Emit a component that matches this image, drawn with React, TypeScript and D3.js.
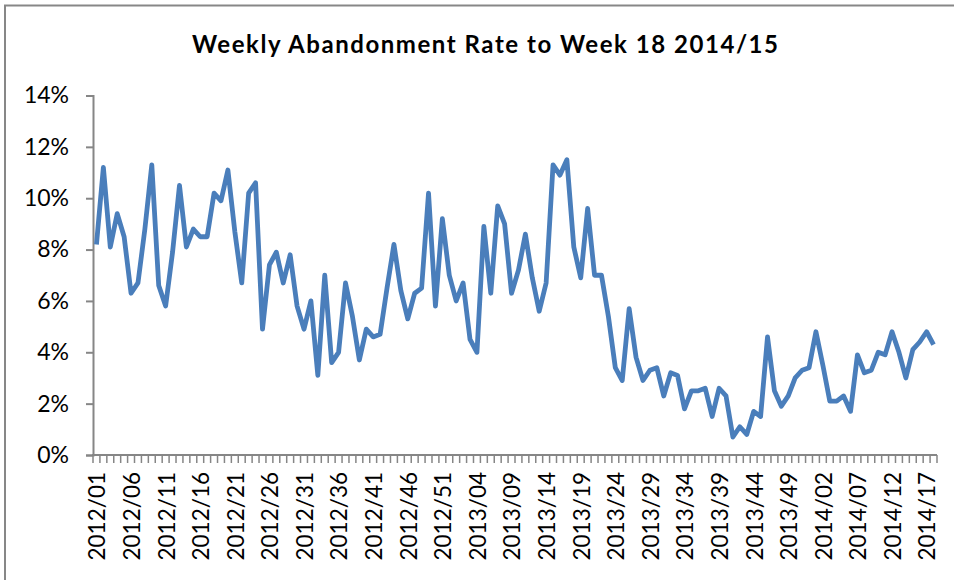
import React, { useEffect, useRef } from 'react';
import * as d3 from 'd3';

const chartTitle = 'Weekly Abandonment Rate to Week 18 2014/15';

// weeks per year shown on the category axis
const years = [2012, 2013, 2014];
const weeksInYear = [52, 52, 18];

const tickLabels = [
  '2012/01', '2012/06', '2012/11', '2012/16', '2012/21', '2012/26', '2012/31',
  '2012/36', '2012/41', '2012/46', '2012/51', '2013/04', '2013/09', '2013/14',
  '2013/19', '2013/24', '2013/29', '2013/34', '2013/39', '2013/44', '2013/49',
  '2014/02', '2014/07', '2014/12', '2014/17',
];

// abandonment rate, % per week
const rate2012 = [
  8.2, 11.2, 8.1, 9.4, 8.5, 6.3, 6.7, 8.8, 11.3, 6.6,
  5.8, 7.9, 10.5, 8.1, 8.8, 8.5, 8.5, 10.2, 9.9, 11.1,
  8.7, 6.7, 10.2, 10.6, 4.9, 7.4, 7.9, 6.7, 7.8, 5.8,
  4.9, 6.0, 3.1, 7.0, 3.6, 4.0, 6.7, 5.4, 3.7, 4.9,
  4.6, 4.7, 6.5, 8.2, 6.4, 5.3, 6.3, 6.5, 10.2, 5.8,
  9.2, 7.0,
];
const rate2013 = [
  6.0, 6.7, 4.5, 4.0, 8.9, 6.3, 9.7, 9.0, 6.3, 7.2,
  8.6, 6.9, 5.6, 6.7, 11.3, 10.9, 11.5, 8.1, 6.9, 9.6,
  7.0, 7.0, 5.4, 3.4, 2.9, 5.7, 3.8, 2.9, 3.3, 3.4,
  2.3, 3.2, 3.1, 1.8, 2.5, 2.5, 2.6, 1.5, 2.6, 2.3,
  0.7, 1.1, 0.8, 1.7, 1.5, 4.6, 2.5, 1.9, 2.3, 3.0,
  3.3, 3.4,
];
const rate2014 = [
  4.8, 3.5, 2.1, 2.1, 2.3, 1.7, 3.9, 3.2, 3.3, 4.0,
  3.9, 4.8, 4.0, 3.0, 4.1, 4.4, 4.8, 4.3,
];

const yTicks = [0, 2, 4, 6, 8, 10, 12, 14];

const width = 954;
const height = 580;

export default function App() {
  const ref = useRef(null);

  useEffect(() => {
    const weeks = [];
    years.forEach((y, k) => {
      for (let w = 1; w <= weeksInYear[k]; w++) {
        weeks.push(`${y}/${String(w).padStart(2, '0')}`);
      }
    });
    const values = [...rate2012, ...rate2013, ...rate2014];
    const data = weeks.map((w, i) => ({ week: w, value: values[i] }));

    const svg = d3.select(ref.current);
    svg.selectAll('*').remove();

    const left = 93;
    const right = 937;
    const top = 95.5;
    const bottom = 455;

    const x = d3.scaleBand().domain(weeks).range([left, right]);
    const y = d3.scaleLinear().domain([0, 14]).range([bottom, top]);

    svg.append('rect')
      .attr('width', width)
      .attr('height', height)
      .attr('fill', '#fff');

    // chart frame (only top and left edges fall inside the picture)
    svg.append('rect')
      .attr('x', 5)
      .attr('y', 5.5)
      .attr('width', 1000)
      .attr('height', 700)
      .attr('fill', 'none')
      .attr('stroke', '#878787')
      .attr('stroke-width', 2);

    svg.append('text')
      .attr('x', 485)
      .attr('y', 53)
      .attr('text-anchor', 'middle')
      .attr('textLength', 586)
      .attr('lengthAdjust', 'spacing')
      .style('font-family', 'Lato, sans-serif')
      .style('font-weight', 'bold')
      .style('font-size', '24px')
      .style('fill', '#000')
      .text(chartTitle);

    // y axis
    const yAxis = svg.append('g').attr('transform', `translate(${left},0)`)
      .call(d3.axisLeft(y).tickValues(yTicks).tickSize(7).tickPadding(17)
        .tickFormat((d) => `${d}%`));
    yAxis.select('.domain').attr('stroke', '#868686').attr('stroke-width', 2);
    yAxis.selectAll('.tick line').attr('stroke', '#868686').attr('stroke-width', 2);
    yAxis.selectAll('.tick text')
      .style('font-family', 'Lato, sans-serif')
      .style('font-size', '23px')
      .attr('fill', '#000');

    // x axis with a tick between every week
    const xg = svg.append('g');
    xg.append('line')
      .attr('x1', left - 1).attr('x2', right)
      .attr('y1', bottom).attr('y2', bottom)
      .attr('stroke', '#868686').attr('stroke-width', 2);
    xg.selectAll('line.tk')
      .data(weeks.concat(['end']))
      .enter()
      .append('line')
      .attr('class', 'tk')
      .attr('x1', (d, i) => left + i * x.step())
      .attr('x2', (d, i) => left + i * x.step())
      .attr('y1', bottom)
      .attr('y2', bottom + 8)
      .attr('stroke', '#868686')
      .attr('stroke-width', 1.5);

    xg.selectAll('text')
      .data(tickLabels)
      .enter()
      .append('text')
      .attr('transform', (d) => `translate(${x(d) + x.bandwidth() / 2 + 1},472) rotate(-90)`)
      .attr('text-anchor', 'end')
      .attr('dy', '0.35em')
      .style('font-family', 'Lato, sans-serif')
      .style('font-size', '22.5px')
      .style('fill', '#000')
      .text((d) => d);

    const line = d3.line()
      .x((d) => x(d.week) + x.bandwidth() / 2)
      .y((d) => y(d.value));

    svg.append('path')
      .datum(data)
      .attr('d', line)
      .attr('fill', 'none')
      .attr('stroke', '#4a7ebb')
      .attr('stroke-width', 4.8)
      .attr('stroke-linejoin', 'round');
  }, []);

  return (
    <svg
      ref={ref}
      width={width}
      height={height}
      style={{ position: 'absolute', left: 0, top: 0, display: 'block' }}
    />
  );
}
